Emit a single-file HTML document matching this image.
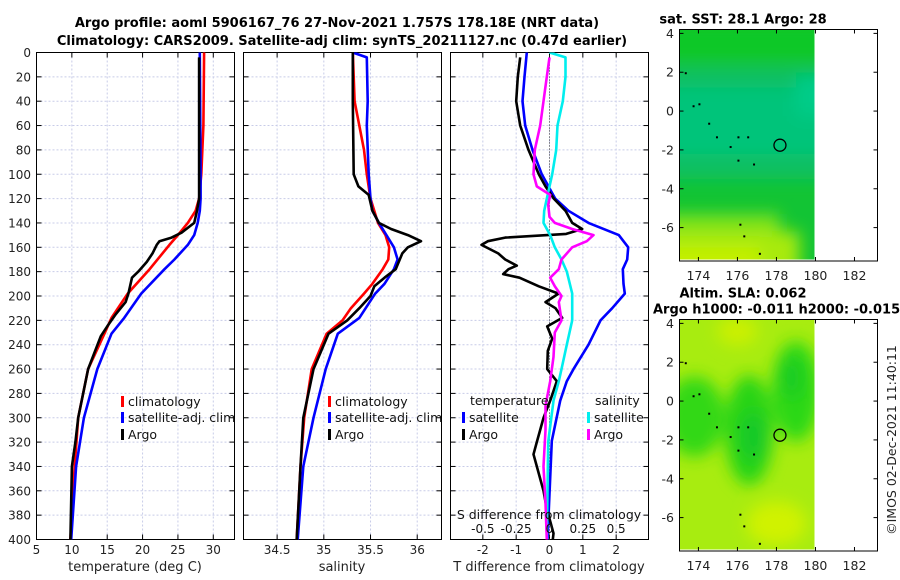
<!DOCTYPE html>
<html><head><meta charset="utf-8">
<style>
html,body{margin:0;padding:0;background:#fff;}
svg{display:block;font-family:"DejaVu Sans","Liberation Sans",sans-serif;}
</style></head>
<body>
<svg id="fig" width="900" height="580" viewBox="0 0 900 580" xmlns="http://www.w3.org/2000/svg">
<defs>
<filter id="blur8" x="-30%" y="-30%" width="160%" height="160%"><feGaussianBlur stdDeviation="8"/></filter>
<clipPath id="clipTop"><rect x="679.5" y="29.5" width="135" height="230"/></clipPath>
<clipPath id="clipBot"><rect x="679.5" y="319.5" width="135" height="230"/></clipPath>
<clipPath id="c1"><rect x="36.5" y="52.5" width="198" height="487"/></clipPath>
<clipPath id="c2"><rect x="243.5" y="52.5" width="198" height="487"/></clipPath>
<clipPath id="c3"><rect x="450.5" y="52.5" width="198" height="487"/></clipPath>
</defs>
<text x="337" y="27" text-anchor="middle" font-size="13" font-weight="bold">Argo profile: aoml 5906167_76 27-Nov-2021 1.757S 178.18E (NRT data)</text>
<text x="342" y="45" text-anchor="middle" font-size="13" font-weight="bold">Climatology: CARS2009. Satellite-adj clim: synTS_20211127.nc (0.47d earlier)</text>
<g id="g1"></g>
<g id="g2"></g>
<g id="g3"></g>
<g id="mapTop"></g>
<g id="mapBot"></g>
<text transform="translate(896,440) rotate(-90)" text-anchor="middle" font-size="12.5" fill="#222">©IMOS 02-Dec-2021 11:40:11</text>
</svg>
<script>
// ---- data ----
const tClimDepth=[0,60,100,120,130,140,150,158,178,198,218,231,260,300,340,400];
const tClimVal=[28.7,28.6,28.3,28.0,27.5,26.4,25.0,23.8,21.0,17.9,15.6,14.6,12.3,10.9,10.4,9.8];
const tSatDepth=[0,100,120,130,140,150,158,170,178,198,218,231,260,300,340,400];
const tSatVal=[28.1,28.2,28.2,28.1,27.8,27.3,26.4,24.5,23.1,19.8,17.4,15.6,13.6,11.7,10.6,9.9];
const tArgoDepth=[4,100,120,130,140,148,152,155,158,165,172,180,185,190,198,205,215,225,233,260,300,320,340,400];
const tArgoVal=[28.0,28.0,28.0,27.7,27.3,25.5,24.1,22.4,22.0,21.4,20.6,19.4,18.5,18.3,18.0,17.6,16.2,15.0,14.1,12.3,10.9,10.5,10.0,9.8];
const sClimDepth=[0,40,80,100,120,140,150,160,170,178,190,198,210,220,231,260,300,340,400];
const sClimVal=[35.31,35.33,35.43,35.46,35.5,35.58,35.66,35.70,35.69,35.63,35.52,35.43,35.29,35.2,35.03,34.87,34.79,34.75,34.71];
const sSatDepth=[0,4,40,60,100,120,130,140,150,160,170,178,190,198,218,231,260,300,340,400];
const sSatVal=[35.31,35.46,35.47,35.46,35.48,35.5,35.52,35.59,35.67,35.75,35.79,35.75,35.65,35.55,35.38,35.15,35.02,34.89,34.78,34.72];
const sArgoDepth=[0,40,100,110,117,130,140,145,150,155,160,165,178,185,192,200,210,220,231,260,300,340,400];
const sArgoVal=[35.31,35.31,35.32,35.37,35.48,35.52,35.59,35.72,35.9,36.04,35.9,35.84,35.77,35.65,35.54,35.5,35.38,35.25,35.05,34.89,34.78,34.75,34.71];
const dTSatDepth=[0,20,40,60,80,100,120,130,140,150,160,170,178,190,198,210,220,240,260,270,286,319,400];
const dTSatVal=[-0.68,-0.75,-0.81,-0.73,-0.51,-0.23,0.17,0.57,1.17,2.08,2.36,2.33,2.2,2.22,2.26,1.88,1.53,1.17,0.72,0.52,0.32,0.07,-0.06];
const dTArgoDepth=[4,20,40,60,80,100,110,120,130,140,145,149,152,155,158,165,170,175,178,182,185,192,198,205,210,218,225,235,245,260,270,286,300,310,320,330,345,360,375,385,395,400];
const dTArgoVal=[-0.88,-0.95,-1.0,-0.88,-0.63,-0.32,-0.12,0.13,0.48,0.68,0.98,0.5,-1.33,-1.85,-2.04,-1.54,-1.33,-0.98,-1.23,-1.39,-0.9,-0.32,0.27,-0.12,0.18,0.38,-0.07,0.08,-0.05,-0.07,0.22,0.02,-0.18,-0.28,-0.38,-0.48,-0.33,-0.18,-0.08,0.02,0.12,0.1];
const dSSatDepth=[0,4,20,40,60,80,100,120,130,140,150,160,170,180,198,220,240,260,270,286,320,400];
const dSSatVal=[0,0.12,0.12,0.10,0.06,0.05,0.02,-0.02,-0.04,-0.045,0.005,0.04,0.09,0.13,0.17,0.17,0.13,0.09,0.07,0.03,-0.01,-0.02];
const dSArgoDepth=[4,20,40,60,80,100,110,117,125,135,140,145,150,155,160,170,178,185,192,200,205,220,230,250,270,290,310,340,370,400];
const dSArgoVal=[0,-0.02,-0.045,-0.07,-0.11,-0.12,-0.095,0.005,-0.01,0,0.04,0.17,0.33,0.28,0.17,0.09,0.07,0.005,0.04,0.09,0.07,0.09,0.04,0.03,0.005,-0.03,-0.03,-0.045,-0.03,-0.02];
const depthTicks=[0,20,40,60,80,100,120,140,160,180,200,220,240,260,280,300,320,340,360,380,400];
const tTicks=[5,10,15,20,25,30];
const sTicks=[34.5,35,35.5,36];
const dTTicks=[-2,-1,0,1,2];
const dSTickLabels=["-0.5","-0.25","0","0.25","0.5"];
const dSTickVals=[-0.5,-0.25,0,0.25,0.5];
const lonTicks=[174,176,178,180,182];
const latTicks=[4,2,0,-2,-4,-6];
const argoLon=178.18, argoLat=-1.757;

// ---- helpers ----
const NS="http://www.w3.org/2000/svg";
function el(tag,attrs,parent,txt){const e=document.createElementNS(NS,tag);for(const k in attrs)e.setAttribute(k,attrs[k]);if(txt!==undefined)e.textContent=txt;parent.appendChild(e);return e;}
const Y0=52.5,Y1=539.5;
const yD=d=>Y0+d*(Y1-Y0)/400;
function lin(d0,d1,r0,r1){return v=>r0+(v-d0)*(r1-r0)/(d1-d0);}
const panels=[
 {g:'g1',x0:36.5,x:lin(5,33,36.5,234.5),ticks:tTicks,clip:'c1'},
 {g:'g2',x0:243.5,x:lin(34.14,36.26,243.5,441.5),ticks:sTicks,clip:'c2'},
 {g:'g3',x0:450.5,x:lin(-2.97,2.97,450.5,648.5),ticks:dTTicks,clip:'c3'}
];
panels.forEach((p,i)=>{
 const g=document.getElementById(p.g);
 const W=198;
 p.ticks.forEach(t=>{const x=p.x(t);
  const gl=el('line',{x1:x,x2:x,y1:Y0,y2:Y1,stroke:'#c8cce8','stroke-width':1,'stroke-dasharray':'2,2'},g);
  
  el('line',{x1:x,x2:x,y1:Y0,y2:Y0+5,stroke:'#000'},g);el('line',{x1:x,x2:x,y1:Y1,y2:Y1-5,stroke:'#000'},g);
  const tl=el('text',{x:x,y:554,'text-anchor':'middle','font-size':12,fill:'#222'},g,String(t));
  
 });
 depthTicks.forEach(d=>{const y=yD(d);
  if(d>0&&d<400){const gl=el('line',{x1:p.x0,x2:p.x0+W,y1:y,y2:y,stroke:'#c8cce8','stroke-width':1,'stroke-dasharray':'2,2'},g);
   }
  el('line',{x1:p.x0,x2:p.x0+5,y1:y,y2:y,stroke:'#000'},g);el('line',{x1:p.x0+W,x2:p.x0+W-5,y1:y,y2:y,stroke:'#000'},g);
  if(i===0){const tl=el('text',{x:31,y:y+4.5,'text-anchor':'end','font-size':12,fill:'#222'},g,String(d));
   }
 });
 const fr=el('rect',{x:p.x0,y:Y0,width:W,height:Y1-Y0,fill:'none',stroke:'#000','stroke-width':1},g);
 
});
function line(pi,depths,vals,color,name,scale){
 const p=panels[pi];const g=document.getElementById(p.g);
 const pts=depths.map((d,k)=>p.x(vals[k]*(scale||1)).toFixed(1)+','+yD(d).toFixed(1)).join(' ');
 const pl=el('polyline',{points:pts,fill:'none',stroke:color,'stroke-width':2.6,'stroke-linejoin':'round','clip-path':'url(#'+p.clip+')'},g);
 
 
}
// panel 3 zero line
{const g=document.getElementById('g3');const x=panels[2].x(0);
 const z=el('line',{x1:x,x2:x,y1:Y0,y2:Y1,stroke:'#333','stroke-width':1,'stroke-dasharray':'1,2'},g);
 }
line(0,tClimDepth,tClimVal,'#f00','temp-climatology-line');
line(0,tSatDepth,tSatVal,'#00f','temp-satellite-line');
line(0,tArgoDepth,tArgoVal,'#000','temp-argo-line');
line(1,sClimDepth,sClimVal,'#f00','sal-climatology-line');
line(1,sSatDepth,sSatVal,'#00f','sal-satellite-line');
line(1,sArgoDepth,sArgoVal,'#000','sal-argo-line');
line(2,dTSatDepth,dTSatVal,'#00f','tdiff-satellite-line');
line(2,dTArgoDepth,dTArgoVal,'#000','tdiff-argo-line');
line(2,dSSatDepth,dSSatVal,'#0ee','sdiff-satellite-line',4);
line(2,dSArgoDepth,dSArgoVal,'#f0f','sdiff-argo-line',4);
// legends
function legend(g,x,y,color,label){
 const lg=el('g',{},g);
 el('rect',{x:x,y:y-10,width:3,height:11,fill:color},lg);
 el('text',{x:x+7,y:y,'font-size':12.5,fill:'#111'},lg,label);
}
const G1=document.getElementById('g1'),G2=document.getElementById('g2'),G3=document.getElementById('g3');
legend(G1,121,406,'#f00','climatology');legend(G1,121,422,'#00f','satellite-adj. clim');legend(G1,121,439,'#000','Argo');
legend(G2,328,406,'#f00','climatology');legend(G2,328,422,'#00f','satellite-adj. clim');legend(G2,328,439,'#000','Argo');
{const t=el('text',{x:470,y:405,'font-size':12.5,fill:'#111'},G3,'temperature');
 const s=el('text',{x:595,y:405,'font-size':12.5,fill:'#111'},G3,'salinity');}
legend(G3,462,422,'#00f','satellite');legend(G3,462,439,'#000','Argo');
legend(G3,587,422,'#0ee','satellite');legend(G3,587,439,'#f0f','Argo');
// S axis labels
dSTickVals.forEach((v,k)=>{const t=el('text',{x:panels[2].x(v*4),y:533,'text-anchor':'middle','font-size':12,fill:'#111'},G3,dSTickLabels[k]);
 });
{const t=el('text',{x:549,y:519,'text-anchor':'middle','font-size':12.5,fill:'#111'},G3,'S difference from climatology');}
// x titles
[[G1,135,'temperature (deg C)'],[G2,342,'salinity'],[G3,549,'T difference from climatology']].forEach(a=>{
 const t=el('text',{x:a[1],y:571,'text-anchor':'middle','font-size':13,fill:'#222'},a[0],a[2]);
 });

// ---- maps ----
function map(gid,top,kind,title1,title2){
 const g=document.getElementById(gid);
 const L=679.5,R=877.5,T=top,B=top+231.5;
 const lx=lin(173.03,183.18,L,R), ly=lin(4.2,-7.72,T,B);
 const clip=kind==='sst'?'clipTop':'clipBot';
 const img=el('g',{'clip-path':'url(#'+clip+')'},g);
 if(kind==='sst'){
  el('rect',{x:L,y:T,width:136,height:231,fill:'#12c434'},img);
  const b=el('g',{filter:'url(#blur8)'},img);
  el('rect',{x:L-20,y:ly(2.3),width:180,height:ly(-3.5)-ly(2.3),fill:'#0cc064'},b);
  el('rect',{x:L-20,y:ly(1.2),width:180,height:ly(-2.2)-ly(1.2),fill:'#00c47a'},b);
  el('rect',{x:lx(179),y:ly(1.8),width:40,height:40,fill:'#00cc88'},b);
  el('rect',{x:L-20,y:ly(4.5),width:180,height:ly(2.6)-ly(4.5),fill:'#10c828'},b);
  el('rect',{x:L-20,y:ly(-5.3),width:120,height:80,fill:'#7ee21c'},b);
  el('rect',{x:L-20,y:ly(-6.2),width:140,height:60,fill:'#a8ea10'},b);
  el('rect',{x:L-20,y:ly(-7),width:100,height:40,fill:'#c4f000'},b);
 } else {
  el('rect',{x:L,y:T,width:136,height:231,fill:'#a8ec10'},img);
  const b=el('g',{filter:'url(#blur8)'},img);
  el('ellipse',{cx:lx(173.8),cy:ly(-0.8),rx:30,ry:40,fill:'#30d818'},b);
  el('ellipse',{cx:lx(176.6),cy:ly(-1.5),rx:24,ry:55,fill:'#28d414'},b);
  el('ellipse',{cx:lx(179),cy:ly(0.5),rx:24,ry:50,fill:'#2cd816'},b);
  el('ellipse',{cx:lx(176.8),cy:ly(-1.8),rx:12,ry:25,fill:'#18c82a'},b);
  el('ellipse',{cx:lx(178.8),cy:ly(1.2),rx:12,ry:22,fill:'#1ccc24'},b);
  el('ellipse',{cx:lx(176),cy:ly(3.6),rx:20,ry:14,fill:'#ccf000'},b);
  el('ellipse',{cx:lx(178),cy:ly(-6.3),rx:30,ry:22,fill:'#d0f200'},b);
 }
 // islands
 [[173.3,2],[173.7,0.3],[174,0.4],[174.5,-0.6],[174.9,-1.3],[175.6,-1.8],[176,-1.3],[176.5,-1.3],[176,-2.5],[176.8,-2.7],[176.1,-5.8],[176.3,-6.4],[177.1,-7.3]].forEach(p=>{
  const d=el('rect',{x:lx(p[0]),y:ly(p[1]),width:2,height:2,fill:'#000'},img);});
 const c=el('circle',{cx:lx(argoLon),cy:ly(argoLat),r:6,fill:'none',stroke:'#000','stroke-width':1.3},g);
 
 lonTicks.forEach(v=>{const x=lx(v);el('line',{x1:x,x2:x,y1:T,y2:T+4,stroke:'#000'},g);el('line',{x1:x,x2:x,y1:B,y2:B-4,stroke:'#000'},g);
  const t=el('text',{x:x,y:B+19,'text-anchor':'middle','font-size':12.5,fill:'#222'},g,String(v));});
 latTicks.forEach(v=>{const y=ly(v);el('line',{x1:L,x2:L+4,y1:y,y2:y,stroke:'#000'},g);el('line',{x1:R,x2:R-4,y1:y,y2:y,stroke:'#000'},g);
  const t=el('text',{x:674,y:y+4.5,'text-anchor':'end','font-size':12.5,fill:'#222'},g,String(v));});
 const fr=el('rect',{x:L,y:T,width:R-L,height:B-T,fill:'none',stroke:'#000'},g);
 const t1=el('text',{x:743,y:top-(title2?22:6),'text-anchor':'middle','font-size':13,'font-weight':'bold'},g,title1);
 if(title2){const t2=el('text',{x:653,y:top-6,'font-size':13,'font-weight':'bold'},g,title2);}
}
map('mapTop',29.5,'sst','sat. SST: 28.1 Argo: 28');
map('mapBot',319.5,'sla','Altim. SLA: 0.062','Argo h1000: -0.011 h2000: -0.015');
</script>
</body></html>
